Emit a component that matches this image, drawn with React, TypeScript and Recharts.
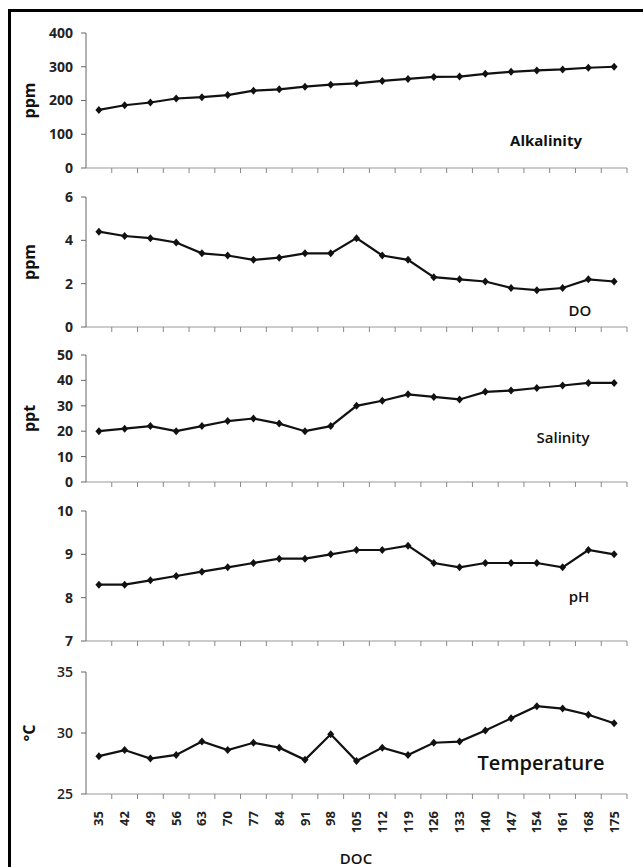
import { LineChart, Line, XAxis, YAxis } from 'recharts';

const doc = [35, 42, 49, 56, 63, 70, 77, 84, 91, 98, 105, 112, 119, 126, 133, 140, 147, 154, 161, 168, 175];
const alkalinity = [172, 186, 194, 206, 210, 216, 229, 233, 241, 247, 251, 258, 264, 270, 271, 279, 285, 289, 292, 297, 300];
const dissolvedOxygen = [4.4, 4.2, 4.1, 3.9, 3.4, 3.3, 3.1, 3.2, 3.4, 3.4, 4.1, 3.3, 3.1, 2.3, 2.2, 2.1, 1.8, 1.7, 1.8, 2.2, 2.1];
const salinity = [20, 21, 22, 20, 22, 24, 25, 23, 20, 22, 30, 32, 34.5, 33.5, 32.5, 35.5, 36, 37, 38, 39, 39];
const ph = [8.3, 8.3, 8.4, 8.5, 8.6, 8.7, 8.8, 8.9, 8.9, 9.0, 9.1, 9.1, 9.2, 8.8, 8.7, 8.8, 8.8, 8.8, 8.7, 9.1, 9.0];
const temperature = [28.1, 28.6, 27.9, 28.2, 29.3, 28.6, 29.2, 28.8, 27.8, 29.9, 27.7, 28.8, 28.2, 29.2, 29.3, 30.2, 31.2, 32.2, 32.0, 31.5, 30.8];

const alkTicks = [0, 100, 200, 300, 400];
const doTicks = [0, 2, 4, 6];
const salTicks = [0, 10, 20, 30, 40, 50];
const phTicks = [7, 8, 9, 10];
const tempTicks = [25, 30, 35];

const data = doc.map((d, i) => ({
    doc: d,
    alkalinity: alkalinity[i],
    dissolvedOxygen: dissolvedOxygen[i],
    salinity: salinity[i],
    ph: ph[i],
    temperature: temperature[i],
}));

const FONT = '"Open Sans", "Liberation Sans", Arial, sans-serif';

const Diamond = (props: any) => {
    const { cx, cy } = props;
    if (cx == null || cy == null) return null;
    return <path d={`M${cx},${cy - 4} L${cx + 3.5},${cy} L${cx},${cy + 4} L${cx - 3.5},${cy} Z`} fill="#111" />;
};

// tick marks sit on the category boundaries, labels (bottom panel only) on the centres
const makeTick = (showLabel: boolean) => (props: any) => {
    const { x, y, payload, width } = props;
    const half = (width || 541) / doc.length / 2;
    return (
        <g>
            <line x1={x + half} y1={y} x2={x + half} y2={y + 5} stroke="#888" strokeWidth={1} />
            {showLabel && (
                <text
                    x={x}
                    y={y + 17}
                    transform={`rotate(-90, ${x}, ${y + 17})`}
                    textAnchor="end"
                    dy="0.35em"
                    fontFamily={FONT}
                    fontWeight="bold"
                    fontSize={13}
                    fill="#222"
                >
                    {payload.value}
                </text>
            )}
        </g>
    );
};

interface PanelProps {
    top: number;
    plotHeight: number;
    dataKey: string;
    domain: [number, number];
    ticks: number[];
    unit?: string;
    tickWeight?: string;
    bottom?: boolean;
}

const Panel = ({ top, plotHeight, dataKey, domain, ticks, unit, tickWeight = 'bold', bottom = false }: PanelProps) => {
    const xHeight = bottom ? 60 : 8;
    return (
        <div style={{ position: 'absolute', left: 0, top: top - 10 }}>
            <LineChart
                width={643}
                height={10 + plotHeight + xHeight}
                data={data}
                margin={{ top: 10, right: 16, bottom: 0, left: 0 }}
            >
                <XAxis
                    dataKey="doc"
                    scale="band"
                    height={xHeight}
                    interval={0}
                    stroke="#999"
                    tickLine={false}
                    tickSize={0}
                    tickMargin={0}
                    tick={makeTick(bottom)}
                />
                <YAxis
                    width={86}
                    domain={domain}
                    ticks={ticks}
                    interval={0}
                    stroke="#666"
                    tickSize={5}
                    tickMargin={8}
                    tick={{ fill: '#222', fontSize: 14, fontWeight: tickWeight, fontFamily: FONT }}
                    label={
                        unit
                            ? {
                                  value: unit,
                                  angle: -90,
                                  position: 'insideLeft',
                                  offset: 29,
                                  style: { textAnchor: 'middle', fill: '#111', fontSize: 16, fontWeight: 'bold', fontFamily: FONT },
                              }
                            : undefined
                    }
                />
                <Line
                    type="linear"
                    dataKey={dataKey}
                    stroke="#111"
                    strokeWidth={2.2}
                    dot={<Diamond />}
                    activeDot={false}
                    isAnimationActive={false}
                />
            </LineChart>
        </div>
    );
};

const Note = ({ x, y, size, weight, children }: { x: number; y: number; size: number; weight: string; children: string }) => (
    <div
        style={{
            position: 'absolute',
            left: x,
            top: y,
            transform: 'translate(-50%, -50%)',
            fontFamily: FONT,
            fontSize: size,
            fontWeight: weight,
            color: '#111',
            whiteSpace: 'nowrap',
            lineHeight: 1,
        }}
    >
        {children}
    </div>
);

const App = () => {
    return (
        <div style={{ position: 'absolute', left: 0, top: 0, width: 643, height: 867, background: '#fff', overflow: 'hidden' }}>
            <div
                style={{
                    position: 'absolute',
                    left: 8,
                    top: 9,
                    width: 635,
                    height: 858,
                    borderTop: '3px solid #000',
                    borderLeft: '3px solid #000',
                    boxSizing: 'border-box',
                }}
            />
            <Panel top={33} plotHeight={135} dataKey="alkalinity" domain={[0, 400]} ticks={alkTicks} unit="ppm" />
            <Panel top={197} plotHeight={130} dataKey="dissolvedOxygen" domain={[0, 6]} ticks={doTicks} unit="ppm" />
            <Panel top={355} plotHeight={127} dataKey="salinity" domain={[0, 50]} ticks={salTicks} unit="ppt" />
            <Panel top={511} plotHeight={130} dataKey="ph" domain={[7, 10]} ticks={phTicks} />
            <Panel top={672} plotHeight={122} dataKey="temperature" domain={[25, 35]} ticks={tempTicks} unit="°C" tickWeight="600" bottom />
            <Note x={546} y={140} size={15} weight="bold">Alkalinity</Note>
            <Note x={580} y={310} size={15} weight="600">DO</Note>
            <Note x={563} y={437} size={15} weight="600">Salinity</Note>
            <Note x={579} y={596} size={15} weight="600">pH</Note>
            <Note x={541} y={763} size={20} weight="600">Temperature</Note>
            <Note x={356} y={858} size={15} weight="600">DOC</Note>
        </div>
    );
};

export default App;
